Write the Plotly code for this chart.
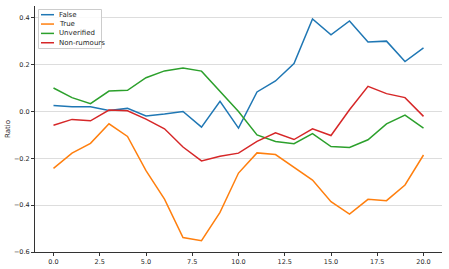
import plotly.graph_objects as go

x = list(range(21))
false_vals = [0.025, 0.020, 0.020, 0.004, 0.013, -0.019, -0.011, 0.000, -0.067, 0.043, -0.071,
              0.083, 0.130, 0.204, 0.395, 0.327, 0.386, 0.296, 0.300, 0.213, 0.271]
true_vals = [-0.243, -0.178, -0.136, -0.053, -0.107, -0.253, -0.374, -0.538, -0.552, -0.431, -0.263,
             -0.177, -0.184, -0.238, -0.293, -0.385, -0.438, -0.375, -0.381, -0.314, -0.186]
unverified_vals = [0.100, 0.059, 0.033, 0.087, 0.090, 0.144, 0.173, 0.185, 0.172, 0.088, 0.000,
                   -0.100, -0.128, -0.138, -0.095, -0.150, -0.154, -0.121, -0.053, -0.016, -0.071]
nonrumour_vals = [-0.059, -0.034, -0.040, 0.006, 0.003, -0.033, -0.074, -0.152, -0.211, -0.191, -0.178,
                  -0.128, -0.091, -0.120, -0.074, -0.103, 0.007, 0.107, 0.076, 0.059, -0.021]

series = [("False", false_vals, "#1f77b4"),
          ("True", true_vals, "#ff7f0e"),
          ("Unverified", unverified_vals, "#2ca02c"),
          ("Non-rumours", nonrumour_vals, "#d62728")]

x_ticks = [0, 2.5, 5, 7.5, 10, 12.5, 15, 17.5, 20]
y_ticks = [-0.6, -0.4, -0.2, 0.0, 0.2, 0.4]

W, H = 449, 269
ML, MR, MT, MB = 35, 7, 6, 17
PW, PH = W - ML - MR, H - MT - MB

fig = go.Figure()
for name, vals, color in series:
    fig.add_trace(go.Scatter(x=x, y=vals, mode="lines", name=name,
                             line=dict(color=color, width=1.5)))

# compact matplotlib-style legend built from shapes + annotations (paper = plot area)
def px(v):
    return (v - ML) / PW

def py(v):
    return (H - MB - v) / PH

shapes = [dict(type="rect", xref="paper", yref="paper",
               x0=px(38.5), x1=px(101.5), y0=py(48.5), y1=py(9.5),
               line=dict(color="#cccccc", width=1), fillcolor="rgba(255,255,255,0.85)",
               layer="above")]
annotations = []
for i, (name, vals, color) in enumerate(series):
    yc = 14.7 + i * 9.35
    shapes.append(dict(type="line", xref="paper", yref="paper",
                       x0=px(41), x1=px(54), y0=py(yc), y1=py(yc),
                       line=dict(color=color, width=1.5), layer="above"))
    annotations.append(dict(xref="paper", yref="paper", x=px(57), y=py(yc),
                            xanchor="left", yanchor="middle", text=name, showarrow=False,
                            font=dict(size=7, color="#262626")))

fig.update_layout(
    width=W, height=H,
    margin=dict(l=ML, r=MR, t=MT, b=MB),
    paper_bgcolor="white", plot_bgcolor="white",
    font=dict(family="DejaVu Sans", size=7, color="#262626"),
    showlegend=False,
    shapes=shapes, annotations=annotations,
)
fig.update_xaxes(range=[-1, 21], tickvals=x_ticks, ticktext=[f"{v:.1f}" for v in x_ticks],
                 showgrid=False, zeroline=False, showline=True, linecolor="#333333", linewidth=1,
                 ticks="outside", ticklen=3, tickcolor="#333333", tickfont=dict(size=6.5),
                 automargin=False)
fig.update_yaxes(range=[-0.6, 0.45], tickvals=y_ticks,
                 ticktext=[("\u2212" if v < 0 else "") + f"{abs(v):.1f}" for v in y_ticks],
                 showgrid=True, gridcolor="#dddddd", gridwidth=1, zeroline=False,
                 showline=True, linecolor="#333333", linewidth=1,
                 ticks="outside", ticklen=3, tickcolor="#333333", tickfont=dict(size=6.5),
                 automargin=False,
                 title=dict(text="Ratio", font=dict(size=7), standoff=2))

fig.write_html("out.html", config={"displayModeBar": False},
               post_script="document.body.style.margin='0';")
